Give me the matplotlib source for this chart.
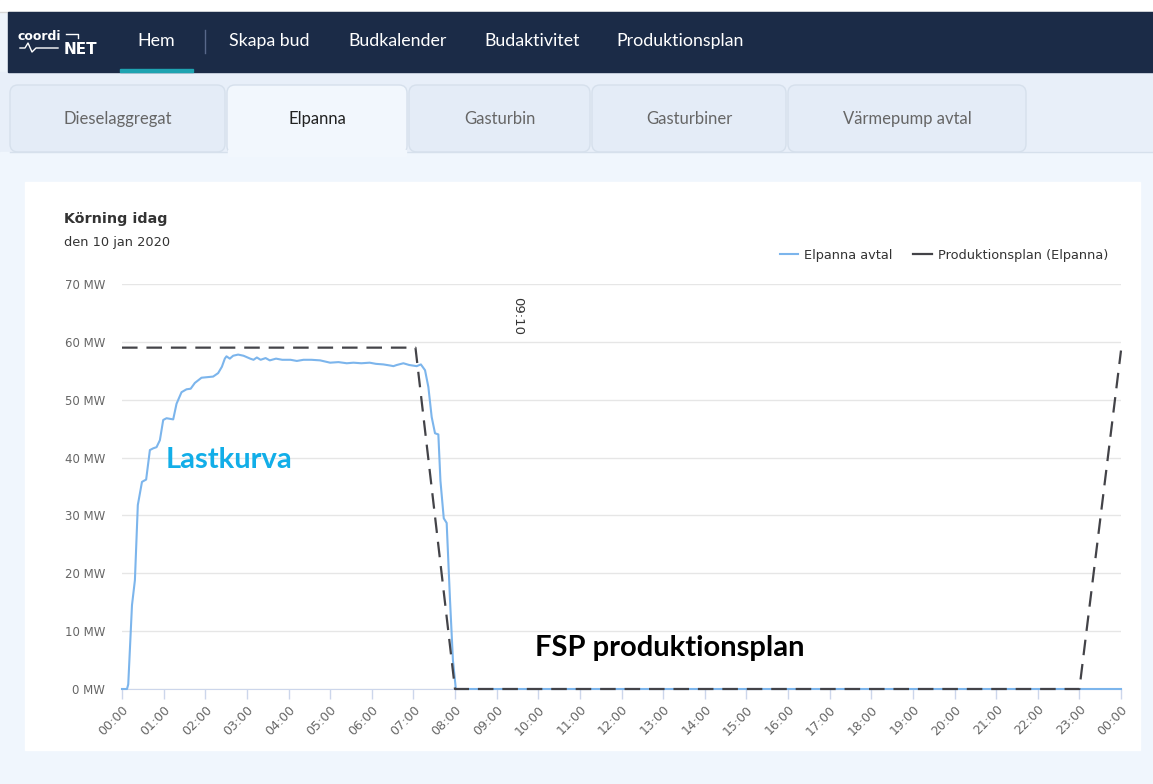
import matplotlib.pyplot as plt
from matplotlib.lines import Line2D
from matplotlib.patches import Rectangle, FancyBboxPatch

# Data (hours since midnight, MW)
avtal_hours = [0.00, 0.12, 0.15, 0.24, 0.31, 0.38, 0.48, 0.58, 0.67, 0.75,
               0.83, 0.91, 0.99, 1.07, 1.23, 1.31, 1.43, 1.55, 1.65, 1.75,
               1.91, 2.19, 2.31, 2.40, 2.47, 2.51, 2.59, 2.67, 2.79, 2.92,
               3.08, 3.16, 3.24, 3.33, 3.45, 3.55, 3.70, 3.85, 4.05, 4.20,
               4.36, 4.55, 4.76, 5.00, 5.20, 5.40, 5.56, 5.75, 5.95, 6.10,
               6.28, 6.45, 6.52, 6.60, 6.76, 6.90, 7.08, 7.18, 7.28, 7.36,
               7.44, 7.52, 7.60, 7.65, 7.73, 7.80, 7.88, 7.95, 8.02, 24.0]
avtal_mw = [0, 0, 0.8, 14.5, 18.8, 31.8, 35.8, 36.2, 41.3, 41.6,
            41.8, 43.0, 46.5, 46.8, 46.6, 49.3, 51.3, 51.8, 51.9, 52.9,
            53.8, 54.0, 54.6, 55.7, 57.1, 57.5, 57.1, 57.6, 57.8, 57.6,
            57.1, 56.9, 57.3, 56.9, 57.2, 56.8, 57.1, 56.9, 56.9, 56.7,
            56.9, 56.9, 56.8, 56.4, 56.5, 56.3, 56.4, 56.3, 56.4, 56.2,
            56.1, 55.9, 55.8, 56.0, 56.3, 56.0, 55.8, 56.1, 55.1, 52.2,
            47.0, 44.2, 44.0, 36.0, 29.5, 28.7, 15.4, 5.0, 0, 0]

plan_hours = [0, 7.05, 8.0, 23.0, 24.0]
plan_mw = [59, 59, 0, 0, 58.5]

hour_labels = ["%02d:00" % h for h in range(24)] + ["00:00"]
y_ticks = [0, 10, 20, 30, 40, 50, 60, 70]

nav_items = ["Skapa bud", "Budkalender", "Budaktivitet", "Produktionsplan"]
nav_x = [229, 348, 484, 616]
tabs = ["Dieselaggregat", "Elpanna", "Gasturbin", "Gasturbiner", "Värmepump avtal"]
tab_edges = [(10, 225), (227, 407), (409, 590), (592, 786), (788, 1026)]
active_tab = 1

W, H = 1153, 784
fig = plt.figure(figsize=(W / 100, H / 100), dpi=100)
fig.patch.set_facecolor('#eef4fb')

# ---- page decoration in pixel coordinates ----
bg = fig.add_axes([0, 0, 1, 1])
bg.set_xlim(0, W)
bg.set_ylim(H, 0)
bg.axis('off')

bg.add_patch(Rectangle((0, 0), W, 12, color='white', zorder=1))
bg.plot([0, W], [12, 12], color='#d8d8d8', lw=1, zorder=2)
bg.add_patch(Rectangle((8, 12), W - 8, 60, color='#1b2b47', zorder=2))
bg.add_patch(Rectangle((120, 68.5), 73, 3.5, color='#1ea3b1', zorder=3))
bg.plot([205, 205], [30, 53], color='#58688a', lw=1, zorder=3)

# logo
bg.text(18, 36, "coordi", color='white', fontsize=9, fontweight='bold',
        family='DejaVu Sans', va='center', ha='left', zorder=4)
bg.text(64, 49, "NET", color='white', fontsize=11, fontweight='bold',
        family='DejaVu Sans', va='center', ha='left', zorder=4)
bg.plot([20, 25, 28, 32, 36, 40, 58], [48, 48, 43, 52, 48, 48, 48],
        color='white', lw=1, zorder=4)
bg.plot([66, 78, 78], [34, 34, 38], color='white', lw=1, zorder=4)

bg.text(156, 41, "Hem", color='white', fontsize=12.8, family='Lato',
        va='center', ha='center', zorder=4)
for label, x in zip(nav_items, nav_x):
    bg.text(x, 41, label, color='white', fontsize=12.8, family='Lato',
            va='center', ha='left', zorder=4)

# tabs
bg.add_patch(Rectangle((0, 72), W, 80, color='#e8eff9', zorder=1))
bg.add_patch(Rectangle((0, 152), W, H - 152, color='#f0f6fd', zorder=1))
for i, (label, (x0, x1)) in enumerate(zip(tabs, tab_edges)):
    active = i == active_tab
    face = '#f2f7fd' if active else '#e4ecf7'
    bottom = 154 if active else 152
    bg.add_patch(FancyBboxPatch((x0, 85), x1 - x0, bottom - 85,
                                boxstyle="round,pad=0,rounding_size=8",
                                facecolor=face, edgecolor='#d6e0ec',
                                lw=1, zorder=2))
    bg.text((x0 + x1) / 2, 119, label, fontsize=12, family='Lato',
            color='#222222' if active else '#666666',
            va='center', ha='center', zorder=3)
bg.plot([10, 227], [152, 152], color='#d6e0ec', lw=1, zorder=3)
bg.plot([407, W], [152, 152], color='#d6e0ec', lw=1, zorder=3)
bg.add_patch(Rectangle((228, 150), 178, 6, color='#f2f7fd', zorder=3))

# white card
bg.add_patch(Rectangle((25, 182), 1115, 568, color='white', zorder=2))
bg.text(64, 219, "Körning idag", fontsize=10.3, fontweight='bold',
        color='#333333', family='DejaVu Sans', va='center', zorder=3)
bg.text(64, 242, "den 10 jan 2020", fontsize=9.3, color='#333333',
        family='DejaVu Sans', va='center', zorder=3)

# ---- chart ----
ax = fig.add_axes([122 / W, 1 - 689 / H, (1121 - 122) / W, (689 - 284) / H])
ax.set_facecolor('none')
ax.set_xlim(0, 24)
ax.set_ylim(0, 70)

ax.plot(avtal_hours, avtal_mw, color='#7cb5ec', lw=1.5, clip_on=False, zorder=3)
ax.plot(plan_hours, plan_mw, color='#434348', lw=1.6, dashes=(7, 4),
        clip_on=False, zorder=4)

ax.set_yticks(y_ticks)
ax.set_yticklabels(["%d MW" % v for v in y_ticks])
ax.set_xticks(range(25))
ax.set_xticklabels(hour_labels)
ax.tick_params(axis='y', length=0, pad=12, labelsize=8.5, labelcolor='#666666')
ax.tick_params(axis='x', length=7, color='#ccd6eb', width=1, pad=3,
               labelsize=9, labelcolor='#666666')
plt.setp(ax.get_xticklabels(), rotation=45, ha='right', rotation_mode='anchor')
ax.yaxis.grid(True, color='#e6e6e6', lw=1)
ax.set_axisbelow(True)
for side in ['top', 'right', 'left']:
    ax.spines[side].set_visible(False)
ax.spines['bottom'].set_color('#ccd6eb')

ax.text(9.5, 67.8, "09:10", rotation=-90, ha='center', va='top',
        fontsize=9.5, color='#333333')
ax.text(1.06, 39.5, "Lastkurva", fontsize=21, fontweight='bold',
        family='Lato', color='#12aee8', ha='left', va='center')
ax.text(9.93, 7.1, "FSP produktionsplan", fontsize=21, fontweight='bold',
        family='Lato', color='black', ha='left', va='center')

handles = [Line2D([], [], color='#7cb5ec', lw=1.5),
           Line2D([], [], color='#434348', lw=1.6)]
fig.legend(handles, ["Elpanna avtal", "Produktionsplan (Elpanna)"],
           loc='center right', bbox_to_anchor=(1120 / W, 1 - 255 / H),
           ncol=2, frameon=False, fontsize=9.3, handlelength=1.4,
           handletextpad=0.5, columnspacing=1.6, labelcolor='#333333')

fig.savefig("out.png", dpi=100)
